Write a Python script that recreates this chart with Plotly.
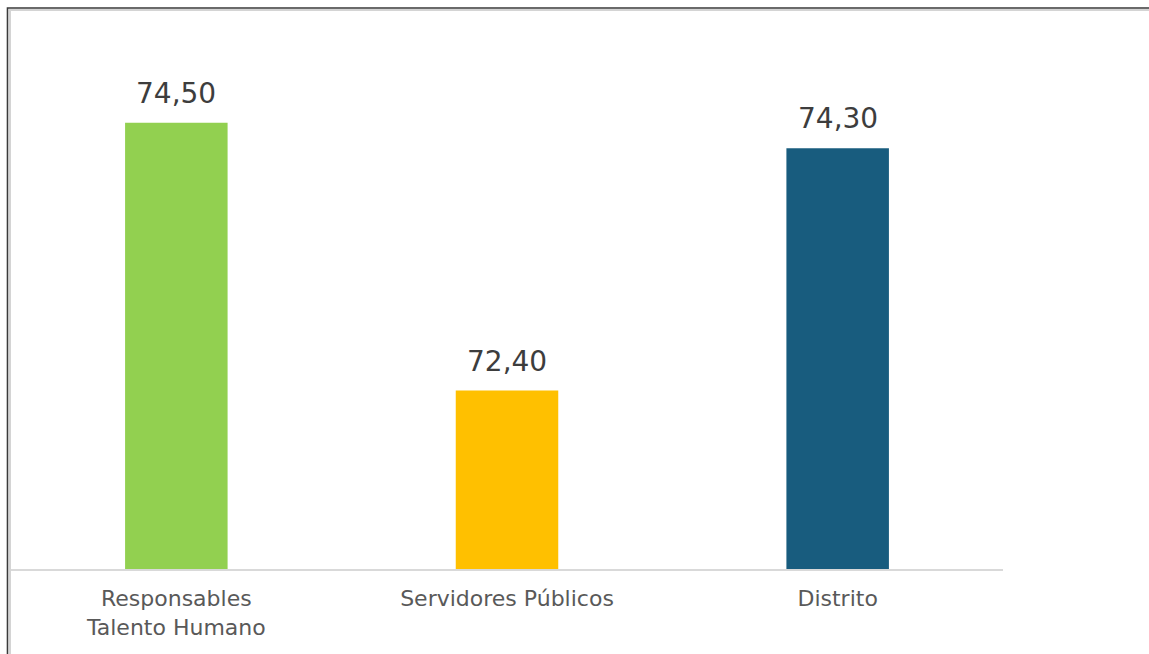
import plotly.graph_objects as go

# Categories and scores
categories = ["Responsables<br>Talento Humano", "Servidores Públicos", "Distrito"]
scores = [74.50, 72.40, 74.30]
bar_colors = ["#92D050", "#FFC000", "#185C7E"]

W, H = 1149, 654
M_L, M_R, M_T, M_B = 11, 146, 59, 85


def fmt(v):
    return f"{v:.2f}".replace(".", ",")


fig = go.Figure()
fig.add_trace(go.Bar(
    x=categories,
    y=scores,
    marker=dict(color=bar_colors, line=dict(width=0)),
    width=0.31,
    hoverinfo="skip",
))

# Value labels above each bar
for cat, val in zip(categories, scores):
    fig.add_annotation(
        x=cat, y=val, xref="x", yref="y",
        text=fmt(val), showarrow=False,
        yanchor="bottom", yshift=11,
        font=dict(family="DejaVu Sans", size=28, color="#3d3d3d"),
    )

# Outer frame (dark line with a soft inner edge)
def px_to_paper_x(px):
    return (px - M_L) / (W - M_L - M_R)


def px_to_paper_y(py):
    return (H - M_B - py) / (H - M_T - M_B)


fig.add_shape(type="rect", xref="paper", yref="paper",
              x0=px_to_paper_x(10), x1=px_to_paper_x(W + 20),
              y0=px_to_paper_y(H + 20), y1=px_to_paper_y(10),
              line=dict(color="#d4d4d4", width=2), fillcolor="rgba(0,0,0,0)",
              layer="below")
fig.add_shape(type="rect", xref="paper", yref="paper",
              x0=px_to_paper_x(7.5), x1=px_to_paper_x(W + 20),
              y0=px_to_paper_y(H + 20), y1=px_to_paper_y(8),
              line=dict(color="#3a3a3a", width=1.6), fillcolor="rgba(0,0,0,0)",
              layer="above")

fig.update_layout(
    width=W, height=H,
    margin=dict(l=M_L, r=M_R, t=M_T, b=M_B, pad=0),
    paper_bgcolor="white", plot_bgcolor="white",
    showlegend=False,
    separators=",.",
    xaxis=dict(
        showline=True, linecolor="#d9d9d9", linewidth=1.5,
        showgrid=False, ticks="", zeroline=False,
        ticklabelstandoff=9,
        tickfont=dict(family="DejaVu Sans", size=22, color="#595959"),
    ),
    yaxis=dict(
        range=[71, 75], visible=False, showgrid=False, zeroline=False,
    ),
)

fig.write_html("out.html")
